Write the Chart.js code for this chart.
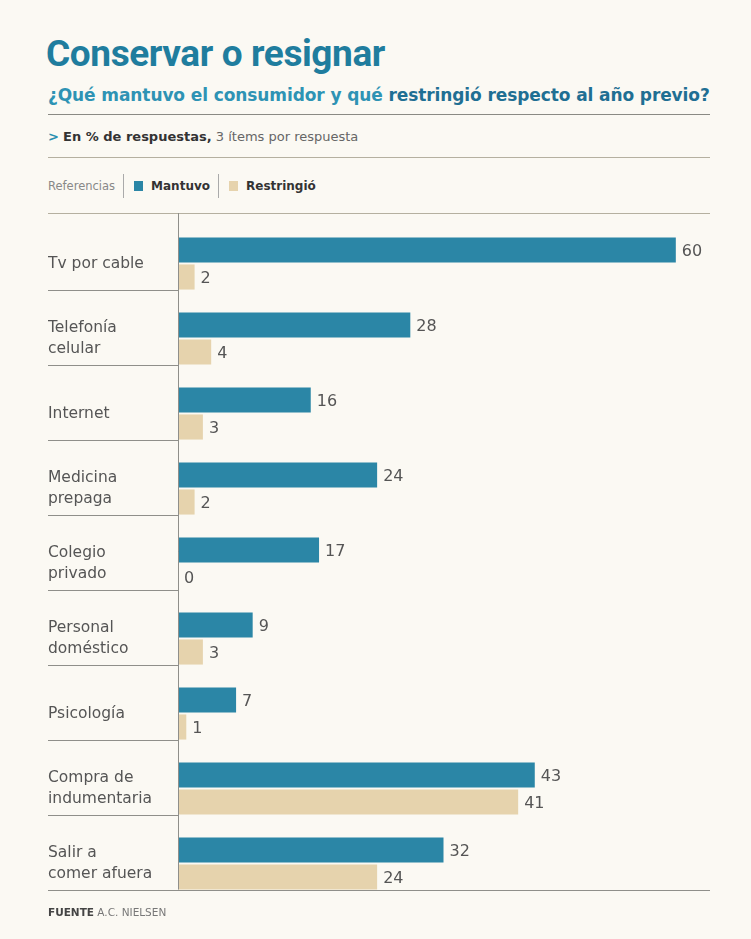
<!DOCTYPE html>
<html>
<head>
<meta charset="utf-8">
<script src="https://cdn.jsdelivr.net/npm/chart.js@4"></script>
<style>
  html, body { margin: 0; padding: 0; }
  body { width: 751px; height: 939px; background: #fbf9f3; position: relative; overflow: hidden; font-family: "DejaVu Sans", sans-serif; }
  .abs { position: absolute; white-space: nowrap; }
  #title { left: 46px; top: 32px; font: bold 37px "Roboto", "Liberation Sans", sans-serif; color: #1f7d9e; letter-spacing: -0.4px; }
  #sub { left: 48px; top: 85px; font: bold 17px "DejaVu Sans", sans-serif; color: #2e93b4; letter-spacing: -0.1px; }
  #sub b { color: #1f6f93; }
  .rule { position: absolute; left: 48px; width: 662px; height: 1px; background: #8a8a84; }
  #unit { left: 48px; top: 129px; font: 13px "DejaVu Sans", sans-serif; color: #666; }
  #unit b { color: #333; }
  #unit .arr { color: #2a8fb0; font-weight: bold; }
  #legend { left: 48px; top: 174px; font: 11.5px "DejaVu Sans", sans-serif; color: #888; display: flex; align-items: center; }
  #legend .div { width: 1px; height: 24px; background: #aaa; margin: 0 10px 0 8px; }
  #legend .sw { width: 9px; height: 10px; display: inline-block; margin-right: 8px; }
  #legend .lb { font-weight: bold; color: #333; font-size: 12px; }
  #src { left: 48px; top: 906px; font: 10.5px "DejaVu Sans", sans-serif; color: #777; }
  #src b { color: #444; }
  #wrap { position: absolute; left: 0; top: 200px; width: 751px; height: 720px; }
</style>
</head>
<body>
<div class="abs" id="title">Conservar o resignar</div>
<div class="abs" id="sub">¿Qué mantuvo el consumidor y qué <b>restringió respecto al año previo?</b></div>
<div class="rule" style="top:114px"></div>
<div class="abs" id="unit"><span class="arr">&gt;</span> <b>En % de respuestas,</b> 3 ítems por respuesta</div>
<div class="rule" style="top:157px; background:#b5b0a0"></div>
<div class="abs" id="legend">
  <span>Referencias</span><span class="div"></span>
  <span class="sw" style="background:#2b86a6"></span><span class="lb">Mantuvo</span><span class="div"></span>
  <span class="sw" style="background:#e6d3ad"></span><span class="lb">Restringió</span>
</div>
<div class="rule" style="top:213px; background:#b5b0a0"></div>
<div id="wrap"><canvas id="chart"></canvas></div>
<div class="abs" id="src"><b>FUENTE</b> A.C. NIELSEN</div>

<script>
const categories = [
  ['Tv por cable'],
  ['Telefonía', 'celular'],
  ['Internet'],
  ['Medicina', 'prepaga'],
  ['Colegio', 'privado'],
  ['Personal', 'doméstico'],
  ['Psicología'],
  ['Compra de', 'indumentaria'],
  ['Salir a', 'comer afuera'],
];
const mantuvo = [60, 28, 16, 24, 17, 9, 7, 43, 32];
const restringio = [2, 4, 3, 2, 0, 3, 1, 41, 24];

const colorMantuvo = '#2b86a6';
const colorRestringio = '#e6d3ad';

// value labels at the end of each bar
const valueLabels = {
  id: 'valueLabels',
  afterDatasetsDraw(chart) {
    const ctx = chart.ctx;
    ctx.save();
    ctx.font = '16px "DejaVu Sans", sans-serif';
    ctx.fillStyle = '#555';
    ctx.textBaseline = 'middle';
    ctx.textAlign = 'left';
    chart.data.datasets.forEach((ds, i) => {
      chart.getDatasetMeta(i).data.forEach((bar, j) => {
        ctx.fillText(ds.data[j], bar.x + 6, bar.y + 2);
      });
    });
    ctx.restore();
  },
};

// axis line, separators under labels and the bottom rule
const rules = {
  id: 'rules',
  afterDraw(chart) {
    const ctx = chart.ctx;
    const area = chart.chartArea;
    const meta = chart.getDatasetMeta(1);
    ctx.save();
    ctx.strokeStyle = '#8f8f8a';
    ctx.lineWidth = 1;
    meta.data.forEach((bar, j) => {
      const y = Math.round(bar.y + bar.height / 2) + 0.5;
      ctx.beginPath();
      ctx.moveTo(48, y);
      ctx.lineTo(j === meta.data.length - 1 ? 710 : area.left, y);
      ctx.stroke();
    });
    const last = meta.data[meta.data.length - 1];
    ctx.beginPath();
    ctx.moveTo(area.left + 0.5, 13);
    ctx.lineTo(area.left + 0.5, last.y + last.height / 2);
    ctx.stroke();
    ctx.restore();
  },
};

new Chart(document.getElementById('chart'), {
  type: 'bar',
  data: {
    labels: categories,
    datasets: [
      {
        label: 'Mantuvo',
        data: mantuvo,
        backgroundColor: colorMantuvo,
        barPercentage: 0.93,
        categoryPercentage: 0.72,
      },
      {
        label: 'Restringió',
        data: restringio,
        backgroundColor: colorRestringio,
        barPercentage: 0.93,
        categoryPercentage: 0.72,
      },
    ],
  },
  options: {
    indexAxis: 'y',
    responsive: true,
    maintainAspectRatio: false,
    animation: false,
    layout: { padding: { left: 48, right: 42, top: 26, bottom: 19 } },
    plugins: {
      legend: { display: false },
      tooltip: { enabled: false },
    },
    scales: {
      x: {
        display: false,
        min: 0,
        max: 64,
      },
      y: {
        grid: { display: false },
        border: { display: false },
        afterFit(scale) { scale.width = 130; },
        ticks: {
          crossAlign: 'far',
          padding: 0,
          color: '#555',
          font: { size: 15.5, family: '"DejaVu Sans", sans-serif', lineHeight: 1.4 },
        },
      },
    },
  },
  plugins: [valueLabels, rules],
});
</script>
</body>
</html>
